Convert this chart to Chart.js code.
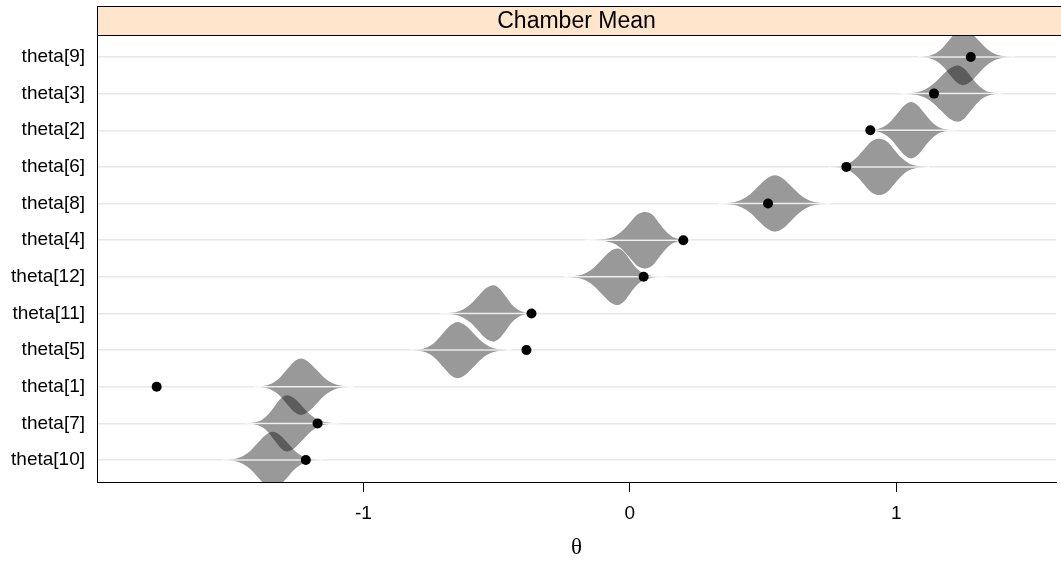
<!DOCTYPE html>
<html>
<head>
<meta charset="utf-8">
<script src="https://cdn.jsdelivr.net/npm/chart.js@4/dist/chart.umd.min.js"></script>
<style>
  html, body { margin: 0; padding: 0; background: #ffffff; overflow: hidden; }
  #wrap { position: relative; width: 1061px; height: 562px; }
</style>
</head>
<body>
<div id="wrap"><canvas id="chart"></canvas></div>
<script>
// Parameters, listed bottom row first
const categories = ['theta[10]', 'theta[7]', 'theta[1]', 'theta[5]', 'theta[11]', 'theta[12]',
                    'theta[4]', 'theta[8]', 'theta[6]', 'theta[2]', 'theta[3]', 'theta[9]'];

// Observed chamber means (black dots)
const chamberMeans = [-1.216, -1.172, -1.776, -0.388, -0.369, 0.052,
                      0.201, 0.519, 0.813, 0.903, 1.142, 1.280];

// Posterior density outlines: theta grid per parameter
const densityX = [
  [-1.530, -1.508, -1.480, -1.452, -1.424, -1.396, -1.368, -1.340, -1.313, -1.285, -1.258, -1.230, -1.203, -1.175, -1.153],
  [-1.443, -1.425, -1.402, -1.379, -1.356, -1.333, -1.310, -1.287, -1.259, -1.230, -1.202, -1.173, -1.145, -1.116, -1.093],
  [-1.412, -1.391, -1.365, -1.339, -1.313, -1.287, -1.261, -1.235, -1.206, -1.176, -1.147, -1.117, -1.088, -1.058, -1.034],
  [-0.823, -0.802, -0.776, -0.750, -0.724, -0.698, -0.672, -0.646, -0.617, -0.587, -0.558, -0.528, -0.499, -0.469, -0.445],
  [-0.711, -0.686, -0.656, -0.626, -0.596, -0.567, -0.539, -0.511, -0.489, -0.466, -0.444, -0.421, -0.399, -0.376, -0.358],
  [-0.246, -0.222, -0.193, -0.163, -0.134, -0.104, -0.075, -0.045, -0.021, 0.002, 0.026, 0.050, 0.080, 0.105, 0.132],
  [-0.168, -0.130, -0.090, -0.058, -0.028, 0.001, 0.030, 0.060, 0.085, 0.109, 0.134, 0.158, 0.183, 0.207, 0.227],
  [0.334, 0.359, 0.390, 0.421, 0.452, 0.483, 0.514, 0.545, 0.576, 0.606, 0.637, 0.667, 0.698, 0.728, 0.752],
  [0.747, 0.769, 0.797, 0.825, 0.853, 0.881, 0.909, 0.937, 0.965, 0.992, 1.020, 1.047, 1.075, 1.102, 1.124],
  [0.886, 0.906, 0.931, 0.956, 0.981, 1.006, 1.031, 1.056, 1.081, 1.105, 1.130, 1.154, 1.179, 1.203, 1.223],
  [1.017, 1.042, 1.074, 1.105, 1.137, 1.168, 1.200, 1.231, 1.256, 1.280, 1.305, 1.329, 1.354, 1.378, 1.398],
  [1.080, 1.100, 1.125, 1.150, 1.175, 1.200, 1.225, 1.250, 1.279, 1.307, 1.336, 1.364, 1.393, 1.421, 1.444]
];
// Density along each grid, scaled to a peak of 1
const densityY = [
  [0, 0.012, 0.045, 0.14, 0.33, 0.61, 0.88, 1, 0.88, 0.61, 0.33, 0.14, 0.045, 0.012, 0],
  [0, 0.012, 0.045, 0.14, 0.33, 0.61, 0.88, 1, 0.88, 0.61, 0.33, 0.14, 0.045, 0.012, 0],
  [0, 0.012, 0.045, 0.14, 0.33, 0.61, 0.88, 1, 0.88, 0.60, 0.32, 0.13, 0.040, 0.010, 0],
  [0, 0.012, 0.050, 0.15, 0.35, 0.63, 0.89, 1, 0.87, 0.60, 0.32, 0.13, 0.040, 0.010, 0],
  [0, 0.012, 0.045, 0.14, 0.34, 0.63, 0.90, 1, 0.88, 0.61, 0.33, 0.14, 0.045, 0.012, 0],
  [0, 0.012, 0.045, 0.14, 0.33, 0.62, 0.89, 1, 0.87, 0.58, 0.30, 0.12, 0.040, 0.010, 0],
  [0, 0.010, 0.040, 0.13, 0.33, 0.63, 0.92, 1, 0.90, 0.62, 0.33, 0.13, 0.040, 0.010, 0],
  [0, 0.012, 0.045, 0.14, 0.33, 0.61, 0.88, 1, 0.88, 0.61, 0.33, 0.14, 0.045, 0.012, 0],
  [0, 0.012, 0.045, 0.14, 0.34, 0.64, 0.92, 1, 0.90, 0.62, 0.32, 0.13, 0.040, 0.010, 0],
  [0, 0.012, 0.045, 0.14, 0.33, 0.61, 0.88, 1, 0.88, 0.61, 0.33, 0.14, 0.045, 0.012, 0],
  [0, 0.010, 0.040, 0.13, 0.32, 0.60, 0.88, 1, 0.88, 0.61, 0.33, 0.14, 0.045, 0.012, 0],
  [0, 0.012, 0.045, 0.14, 0.33, 0.61, 0.88, 1, 0.88, 0.61, 0.33, 0.14, 0.045, 0.012, 0]
];

const xTickValues = [-1, 0, 1];
const stripTitle = 'Chamber Mean';
const axisTitle = '\u03b8';

// Styling
const SANS = "'Liberation Sans', Arial, Helvetica, sans-serif";
const SERIF = "'Liberation Serif', 'DejaVu Serif', serif";
const HALF_WIDTH = 0.77;          // peak half-height of a violin, in row units
const VIOLIN_FILL = 'rgba(0,0,0,0.4)';

const datasets = [];

categories.forEach((name, i) => {
  const row = i + 1;
  const xs = densityX[i];
  const ds = densityY[i];
  // upper and lower halves of the violin, each filled to the row line
  [1, -1].forEach(sign => {
    datasets.push({
      type: 'line',
      data: xs.map((x, j) => ({ x: x, y: row + sign * ds[j] * HALF_WIDTH })),
      fill: { value: row },
      backgroundColor: VIOLIN_FILL,
      borderWidth: 0,
      borderColor: 'rgba(0,0,0,0)',
      pointRadius: 0,
      cubicInterpolationMode: 'monotone',
      order: 3
    });
  });
  // light line along the row through the violin, tail to tail
  datasets.push({
    type: 'line',
    data: [{ x: xs[0], y: row }, { x: xs[xs.length - 1], y: row }],
    borderColor: 'rgba(255,255,255,0.85)',
    borderWidth: 1.5,
    pointRadius: 0,
    fill: false,
    order: 2
  });
});

datasets.push({
  type: 'scatter',
  data: chamberMeans.map((x, i) => ({ x: x, y: i + 1 })),
  backgroundColor: '#000000',
  borderColor: '#000000',
  borderWidth: 0,
  pointRadius: 5,
  order: 0
});

// Strip with the panel title, drawn above the plotting area
const stripPlugin = {
  id: 'strip',
  afterDraw(chart) {
    const { ctx, chartArea } = chart;
    const top = chartArea.top - 29;
    const left = chartArea.left;
    const right = chart.width + 4;
    ctx.save();
    ctx.fillStyle = '#ffe5cc';
    ctx.fillRect(left, top, right - left, chartArea.top - top);
    ctx.strokeStyle = '#000000';
    ctx.lineWidth = 1;
    ctx.strokeRect(left + 0.5, top + 0.5, right - left, chartArea.top - top);
    ctx.fillStyle = '#000000';
    ctx.font = '23px ' + SANS;
    ctx.textAlign = 'center';
    ctx.textBaseline = 'middle';
    ctx.fillText(stripTitle, (chartArea.left + chartArea.right) / 2, (top + chartArea.top) / 2 + 1);
    ctx.restore();
  }
};

new Chart(document.getElementById('chart'), {
  type: 'line',
  data: { datasets: datasets },
  options: {
    responsive: true,
    maintainAspectRatio: false,
    animation: false,
    devicePixelRatio: 1,
    layout: { padding: { top: 35, left: 0, right: 0, bottom: 0 } },
    plugins: { legend: { display: false }, tooltip: { enabled: false } },
    scales: {
      x: {
        type: 'linear',
        min: -2.0,
        max: 1.6,
        afterBuildTicks: s => { s.ticks = xTickValues.map(v => ({ value: v })); },
        afterFit: s => { s.height = 80; },
        grid: { drawOnChartArea: false, drawTicks: true, tickLength: 10, color: '#000000', tickColor: '#000000' },
        border: { display: true, color: '#000000', width: 1 },
        ticks: { color: '#000000', font: { family: SANS, size: 19 }, padding: 10, callback: v => String(v) },
        title: { display: true, text: axisTitle, color: '#000000', font: { family: SERIF, size: 23 }, padding: { top: 0, bottom: 0 } }
      },
      y: {
        type: 'linear',
        min: 0.4,
        max: 12.6,
        afterBuildTicks: s => { s.ticks = categories.map((_, i) => ({ value: i + 1 })); },
        afterFit: s => { s.width = 97; },
        grid: { color: '#e8e8e8', lineWidth: 1.5, drawTicks: false },
        border: { display: true, color: '#000000', width: 1 },
        ticks: { color: '#000000', font: { family: SANS, size: 19 }, padding: 12,
                 callback: v => categories[Math.round(v) - 1] }
      }
    }
  },
  plugins: [stripPlugin]
});
</script>
</body>
</html>
